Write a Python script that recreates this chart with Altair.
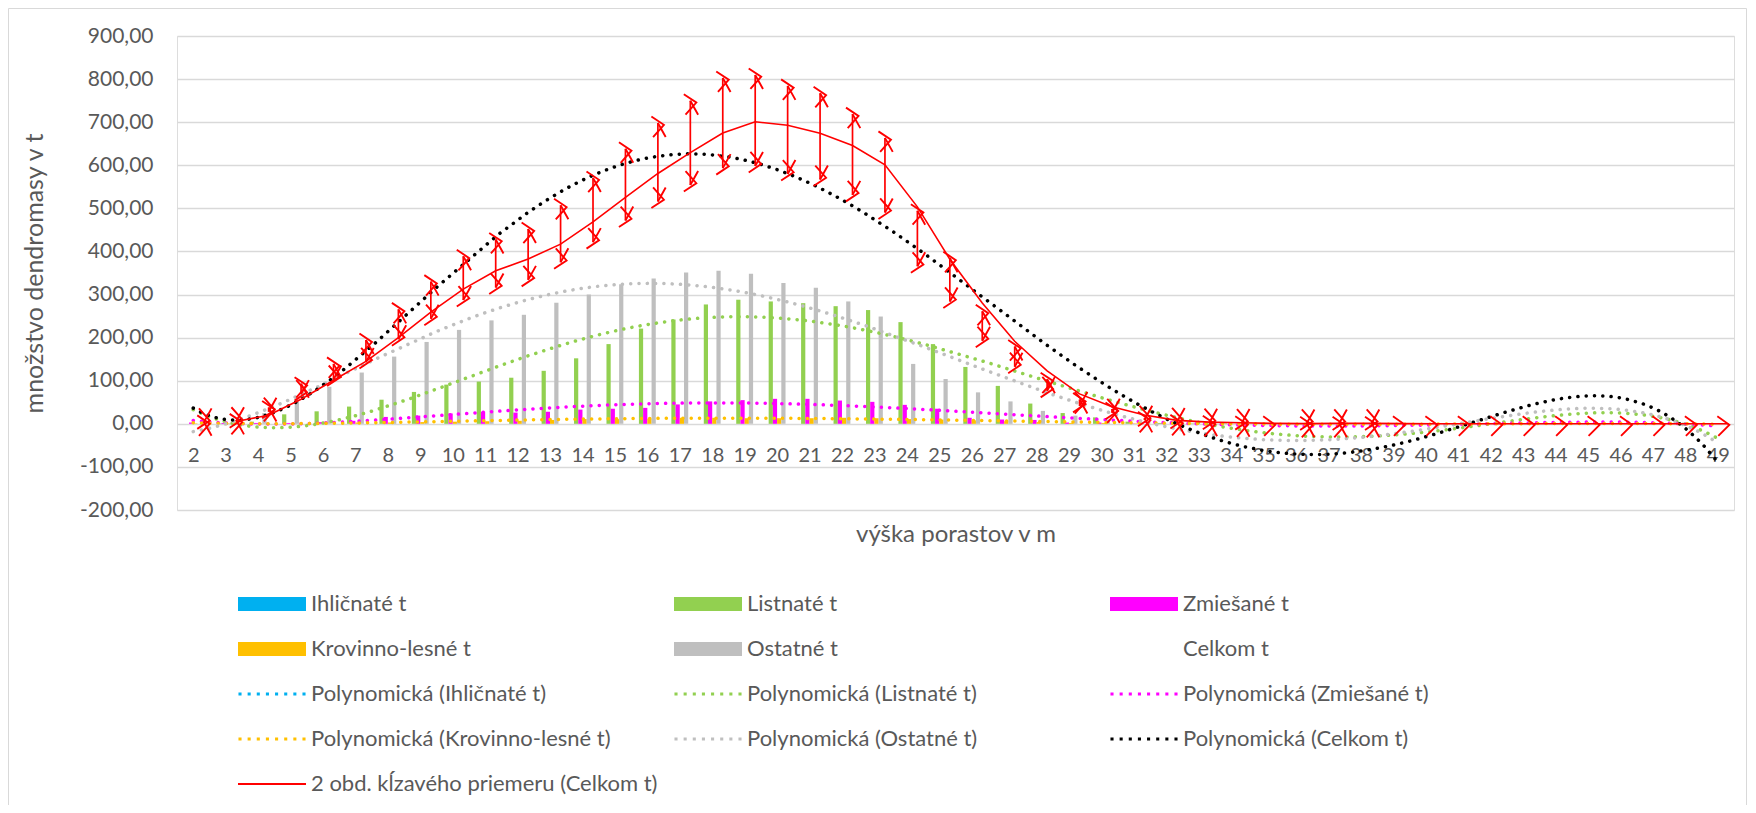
import json
import altair as alt
import pandas as pd

# ---------------- data ----------------
heights = list(range(2, 50))

ihlicnate = [0] * 48
listnate = [0, 1, 5, 22, 29, 40, 56, 74, 91, 98, 107, 123, 152, 185, 221, 242, 277, 288,
            284, 280, 273, 264, 236, 185, 132, 88, 47, 25, 15, 5, 2, 1, 1, 0, 0, 0, 0,
            0, 0, 0, 0, 0, 0, 0, 0, 0, 0, 0]
zmiesane = [3, 2, 2, 2, 4, 7, 16, 19, 24, 28, 26, 28, 33, 35, 37, 45, 52, 55,
            58, 58, 54, 51, 44, 35, 14, 10, 9, 3, 3, 1, 1, 1, 0, 0, 0, 0, 0,
            0, 0, 0, 0, 0, 0, 0, 0, 0, 0, 0]
krovinno = [1, 1, 1, 2, 2, 3, 3, 4, 5, 6, 7, 9, 11, 11, 12, 14, 14, 13,
            13, 13, 14, 13, 11, 10, 8, 6, 4, 2, 2, 1, 0, 0, 0, 0, 0, 0, 0,
            0, 0, 0, 0, 0, 0, 0, 0, 0, 0, 0]
ostatne = [0, 3, 25, 55, 86, 119, 156, 190, 218, 240, 253, 281, 300, 324, 337, 351, 355, 348,
           327, 316, 284, 249, 139, 104, 73, 52, 30, 19, 10, 4, 2, 1, 1, 0, 1, 1, 1,
           0, 0, 0, 0, 0, 0, 0, 0, 0, 0, 0]
celkom = [4, 7, 33, 81, 121, 169, 231, 287, 338, 372, 393, 441, 496, 555, 607, 652, 698, 704,
          682, 667, 625, 577, 430, 334, 227, 156, 90, 49, 30, 11, 5, 3, 2, 0, 1, 1, 1,
          0, 0, 0, 0, 0, 0, 0, 0, 0, 0, 0]

# polynomial trendline values (Ostatné t, Celkom t), per height 2..49
trend_ostatne_read = [-12, -2, 20, 50, 90, 132, 168, 200, 232, 260, 283, 300, 313, 321, 325, 324,
                      315, 302, 287, 268, 246, 220, 194, 167, 137, 110, 82, 58, 36, 14, -8, -27,
                      -35, -37, -38, -37, -33, -25, -14, 0, 16, 27, 34, 36, 32, 18, -5, -42]
trend_celkom_read = [36, 10, 16, 42, 90, 148, 214, 282, 355, 418, 467, 518, 563, 600, 618, 625,
                     623, 612, 593, 564, 525, 479, 421, 368, 302, 248, 198, 145, 107, 57, 14, -24,
                     -47, -62, -69, -70, -65, -53, -28, -8, 17, 41, 57, 63, 58, 38, -8, -90]

SERIES = ["Ihličnaté t", "Listnaté t", "Zmiešané t", "Krovinno-lesné t", "Ostatné t", "Celkom t"]
COLORS = ["#00B0F0", "#92D050", "#FF00FF", "#FFC000", "#BFBFBF", "#000000"]

LEGEND_LABELS = [
    "Ihličnaté t", "Listnaté t", "Zmiešané t",
    "Krovinno-lesné t", "Ostatné t", "Celkom t",
    "Polynomická (Ihličnaté t)", "Polynomická (Listnaté t)", "Polynomická (Zmiešané t)",
    "Polynomická (Krovinno-lesné t)", "Polynomická (Ostatné t)", "Polynomická (Celkom t)",
    "2 obd. kĺzavého priemeru (Celkom t)",
]

rows = []
for s, arr in zip(SERIES, [ihlicnate, listnate, zmiesane, krovinno, ostatne, celkom]):
    for h, v in zip(heights, arr):
        rows.append({"h": h, "series": s, "value": v})
df = pd.DataFrame(rows)

trows = []
for s, arr in zip(["Ostatné t", "Celkom t"], [trend_ostatne_read, trend_celkom_read]):
    for h, v in zip(heights, arr):
        trows.append({"h": h, "series": s, "value": v})
tdf = pd.DataFrame(trows)

# ---------------- styling helpers ----------------
FONT = "Lato"
TXT = "#595959"
BW = 0.13  # bar width in category units
W, H = 1557, 474

series_js = json.dumps(SERIES, ensure_ascii=False)

xscale = alt.Scale(domain=[1.5, 49.5], nice=False, zero=False)
yscale = alt.Scale(domain=[-200, 900], nice=False, zero=False)

xaxis = alt.Axis(values=heights, format="d", grid=False, domain=False, ticks=False, tickSize=0,
                 labelFont=FONT, labelFontSize=20, labelColor=TXT, labelPadding=21,
                 labelOverlap=False, labelFlush=False, offset=-86,
                 title="výška porastov v m", titleFont=FONT, titleFontSize=24,
                 titleFontWeight="normal", titleColor=TXT, titleY=110, titleBaseline="middle")
yaxis = alt.Axis(values=list(range(-200, 1000, 100)), grid=True, gridColor="#D9D9D9", gridWidth=1.3,
                 domain=False, ticks=False, tickSize=0,
                 labelFont=FONT, labelFontSize=21, labelColor=TXT, labelPadding=24,
                 labelExpr="replace(replace(format(datum.value, '.2f'), '.', ','), '\u2212', '-')",
                 title="množstvo dendromasy v t", titleFont=FONT, titleFontSize=25,
                 titleFontWeight="normal", titleColor=TXT, titleX=-143, titleY=H / 2,
                 titleAngle=270, titleBaseline="middle", titleAlign="center")


def X(f):
    return alt.X(f, scale=xscale, axis=xaxis)


def Y(f):
    return alt.Y(f, scale=yscale, axis=yaxis)


base = alt.Chart(df)

# bars (grouped, Celkom bars have no fill)
bars = base.transform_filter(alt.datum.series != "Celkom t").transform_calculate(
    k=f"indexof({series_js}, datum.series)"
).transform_calculate(
    x0=f"datum.h + (datum.k - 3) * {BW}",
    x1=f"datum.h + (datum.k - 2) * {BW}",
).mark_bar(opacity=1).encode(
    x=X("x0:Q"), x2="x1:Q",
    y=Y("value:Q"), y2=alt.datum(0),
    fill=alt.Fill("series:N", scale=alt.Scale(domain=SERIES, range=COLORS), legend=None),
)

DOT = dict(strokeWidth=3.5, strokeCap="round", strokeDash=[0.1, 8.2])


def poly_trend(chart):
    # 6th order polynomial trendline, fitted on a rescaled x for numerical stability
    return chart.transform_calculate(
        u="(datum.h - 25.5) / 23.5"
    ).transform_regression(
        "u", "value", groupby=["series"], method="poly", order=6
    ).transform_calculate(hx="datum.u * 23.5 + 25.5")


stroke_enc = alt.Stroke("series:N", scale=alt.Scale(domain=SERIES, range=COLORS), legend=None)

# trendlines of Listnaté / Zmiešané / Krovinno-lesné fitted on their bars
# (Ihličnaté has no data -> no trendline drawn, as in the reference)
trend_parts = poly_trend(
    base.transform_filter(
        "datum.series == 'Listnaté t' || datum.series == 'Zmiešané t' || datum.series == 'Krovinno-lesné t'")
).mark_line(**DOT).encode(x=X("hx:Q"), y=Y("value:Q"), stroke=stroke_enc)

# Ostatné / Celkom trendlines through the values
trend_read = poly_trend(alt.Chart(tdf)).mark_line(**DOT).encode(
    x=X("hx:Q"), y=Y("value:Q"), stroke=stroke_enc)

tot = base.transform_filter(alt.datum.series == "Celkom t").transform_calculate(
    xp=f"datum.h + 2.5 * {BW}", lo="datum.value * 0.85", hi="datum.value * 1.15"
)

ma = tot.transform_window(
    ma="mean(value)", frame=[-1, 0], sort=[alt.SortField("h")]
).transform_filter(alt.datum.h > 2).mark_line(color="#FF0000", strokeWidth=1.6).encode(
    x=X("xp:Q"), y=Y("ma:Q")
)

TOP = "M-6.5,-6.5L6,1.8L-4.8,14M0,0L7.8,14"
BOT = "M-6.5,6.5L6,-1.8L-4.8,-14M0,0L7.8,-14"
ZERO = "M-11,-7.5L1,1L-10,12"
ARW = dict(size=4, filled=False, color="#FF0000", strokeWidth=1.9, opacity=1)

err = tot.mark_rule(color="#FF0000", strokeWidth=1.7).encode(x=X("xp:Q"), y=Y("lo:Q"), y2="hi:Q")
arr_top = tot.transform_filter(alt.datum.value > 0).mark_point(shape=TOP, **ARW).encode(
    x=X("xp:Q"), y=Y("hi:Q"))
arr_bot = tot.transform_filter(alt.datum.value > 0).mark_point(shape=BOT, **ARW).encode(
    x=X("xp:Q"), y=Y("lo:Q"))
arr_zero = tot.transform_filter(alt.datum.value == 0).mark_point(shape=ZERO, **ARW).encode(
    x=X("xp:Q"), y=Y("hi:Q"))

# ---------------- legend (symbols only, from a scale) ----------------
RECT = "M-4.857,-1H4.857V1H-4.857Z"
LINE = "M-4.857,-0.14H4.857V0.14H-4.857Z"
dots = []
for i in range(8):
    c = -4.57 + i * 1.306
    dots.append(f"M{c - 0.22:.3f},-0.22h0.44v0.44h-0.44z")
DOTS = "".join(dots)

LEGEND_SHAPES = [RECT] * 6 + [DOTS] * 6 + [LINE]
LEGEND_COLORS = COLORS[:5] + ["transparent"] + COLORS + ["#FF0000"]

leg_kw = dict(title=None, orient="none", legendX=84, legendY=557, columns=3, direction="horizontal",
              symbolSize=196, symbolStrokeWidth=0, symbolOpacity=1,
              labelFont=FONT, labelFontSize=22, labelColor=TXT, labelOffset=28,
              labelLimit=700, gridAlign="all", columnPadding=16, rowPadding=23)

legend_layer = alt.Chart(pd.DataFrame({"legend": LEGEND_LABELS})).transform_filter("false").mark_point(
    filled=True, opacity=1
).encode(
    color=alt.Color("legend:N", scale=alt.Scale(domain=LEGEND_LABELS, range=LEGEND_COLORS),
                    legend=alt.Legend(**leg_kw)),
    shape=alt.Shape("legend:N", scale=alt.Scale(domain=LEGEND_LABELS, range=LEGEND_SHAPES),
                    legend=alt.Legend(**leg_kw)),
)

border = alt.Chart(pd.DataFrame({"a": [0]})).mark_rect(
    fillOpacity=0, stroke="#D9D9D9", strokeWidth=1
).encode(x=alt.value(-168.5), x2=alt.value(W + 12.5), y=alt.value(-27.5), y2=alt.value(H + 330))

chart = alt.layer(
    border, bars, trend_parts, trend_read, ma, err, arr_top, arr_bot, arr_zero, legend_layer
).properties(
    width=W, height=H,
    padding={"left": 169, "top": 28, "right": 14, "bottom": 295},
    autosize=alt.AutoSizeParams(type="none"),
).configure_view(stroke=None).configure(background="white")

chart.save("out.html", embed_options={"renderer": "svg", "actions": False})
